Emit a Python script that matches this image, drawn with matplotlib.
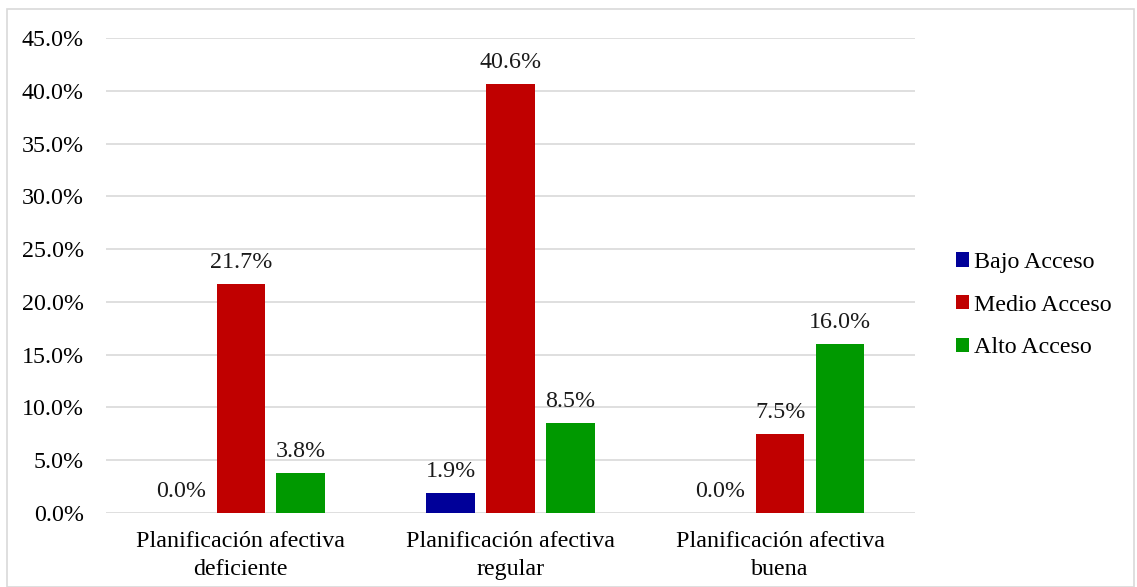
import matplotlib
matplotlib.use("Agg")
import matplotlib.pyplot as plt
import numpy as np
from matplotlib.patches import Rectangle

categories = ["Planificación afectiva\ndeficiente", "Planificación afectiva\nregular", "Planificación afectiva\nbuena"]
series = ["Bajo Acceso", "Medio Acceso", "Alto Acceso"]
bajo = [0.0, 1.9, 0.0]
medio = [21.7, 40.6, 7.5]
alto = [3.8, 8.5, 16.0]
colors = ["#000099", "#C00000", "#009900"]
yticks = [0, 5, 10, 15, 20, 25, 30, 35, 40, 45]

plt.rcParams['font.family'] = ['Liberation Serif', 'DejaVu Serif']
FS = 17.3
W, H = 1137, 587
fig = plt.figure(figsize=(W/100, H/100), dpi=100)
fig.patches.append(Rectangle((7/W, 0), (1134-7)/W, 1-9/H, transform=fig.transFigure,
                             fill=False, edgecolor="#d9d9d9", linewidth=1.2))
ax = fig.add_axes([106/W, 1-513/H, (915-106)/W, (513-38)/H])

x = np.arange(len(categories))
bw = 0.18
step = 0.222
for i, (vals, name) in enumerate(zip([bajo, medio, alto], series)):
    pos = x + (i-1)*step
    ax.bar(pos, vals, bw, color=colors[i], label=name, zorder=3)
    for p, v in zip(pos, vals):
        ax.annotate(f"{v:.1f}%", (p, v), xytext=(0, 8), textcoords="offset points",
                    ha="center", va="bottom", fontsize=FS, color="#1a1a1a")

ax.set_xlim(-0.5, 2.5)
ax.set_ylim(0, 45)
ax.set_yticks(yticks)
ax.set_yticklabels([f"{t:.1f}%" for t in yticks], fontsize=FS)
ax.set_xticks(x)
ax.set_xticklabels(categories, fontsize=FS, linespacing=1.45)
ax.tick_params(length=0, pad=16, axis='y')
ax.tick_params(length=0, pad=13, axis='x')
ax.grid(axis='y', color="#d9d9d9", linewidth=1.2, zorder=0)
for s in ax.spines.values():
    s.set_visible(False)

ax.legend(loc="upper left", bbox_to_anchor=(944/W, 1-240/H), bbox_transform=fig.transFigure,
          frameon=False, fontsize=FS, handlelength=0.55, handleheight=0.55, handletextpad=0.2,
          labelspacing=0.9, borderpad=0)

fig.savefig("out.png", dpi=100)
